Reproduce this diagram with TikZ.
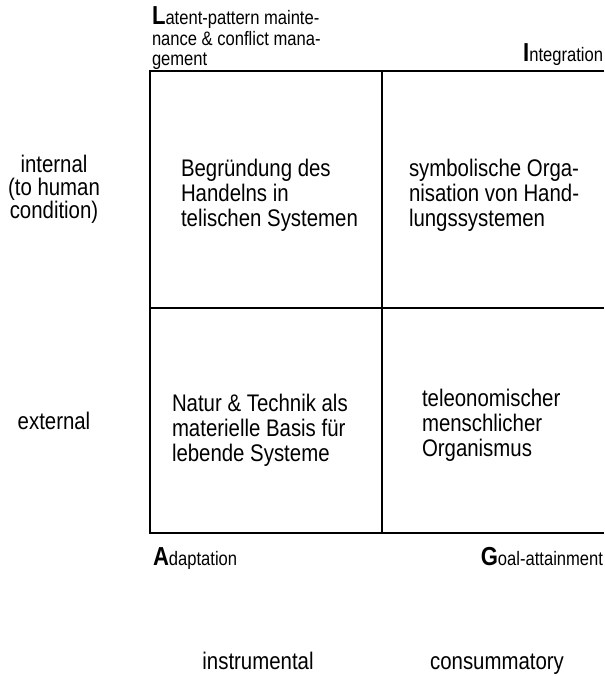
\documentclass[tikz,border=0pt]{standalone}
\usepackage{fontspec}
\setmainfont{Liberation Sans}[FakeStretch=0.85]
\usepackage{tikz}

\newcommand{\initial}[1]{{\fontsize{26}{24}\selectfont\bfseries #1}}

\begin{document}
\begin{tikzpicture}[x=1pt, y=-1pt, line width=2pt,
  cell/.style={inner sep=0pt, align=left, anchor=north west,
    font=\fontsize{24}{25}\selectfont},
  side/.style={inner sep=0pt, align=center, anchor=north,
    font=\fontsize{24}{23}\selectfont},
  corner/.style={inner sep=0pt, align=left,
    font=\fontsize{19.5}{20.5}\selectfont}]

  \useasboundingbox (0,0) rectangle (604,676);

  % frame of the four fields
  \draw (604,71) -- (150,71) -- (150,533) -- (604,533);
  \draw (382,71) -- (382,533);
  \draw (150,308) -- (604,308);

  % the four functions
  \node[corner, anchor=north west] (L) at (151,6)
    {\initial{L}atent-pattern mainte-\\nance \& conflict mana-\\gement};
  \node[corner, anchor=base east] (I) at (604,62) {\initial{I}ntegration};
  \node[corner, anchor=base west] (A) at (152,565) {\initial{A}daptation};
  \node[corner, anchor=base east] (G) at (604,565) {\initial{G}oal-attainment};

  % fields
  \node[cell] (LF) at (180,158) {Begründung des\\Handelns in\\telischen Systemen};
  \node[cell] (IF) at (408,158) {symbolische Orga-\\nisation von Hand-\\lungssystemen};
  \node[cell] (AF) at (171,393) {Natur \& Technik als\\materielle Basis für\\lebende Systeme};
  \node[cell] (GF) at (421,388) {teleonomischer\\menschlicher\\Organismus};

  % axes
  \node[side] (int) at (54,154) {internal\\(to human\\condition)};
  \node[side] (ext) at (54,411) {external};
  \node[side, anchor=base] (ins) at (258,669) {instrumental};
  \node[side, anchor=base] (con) at (497,669) {consummatory};

\end{tikzpicture}
\end{document}
